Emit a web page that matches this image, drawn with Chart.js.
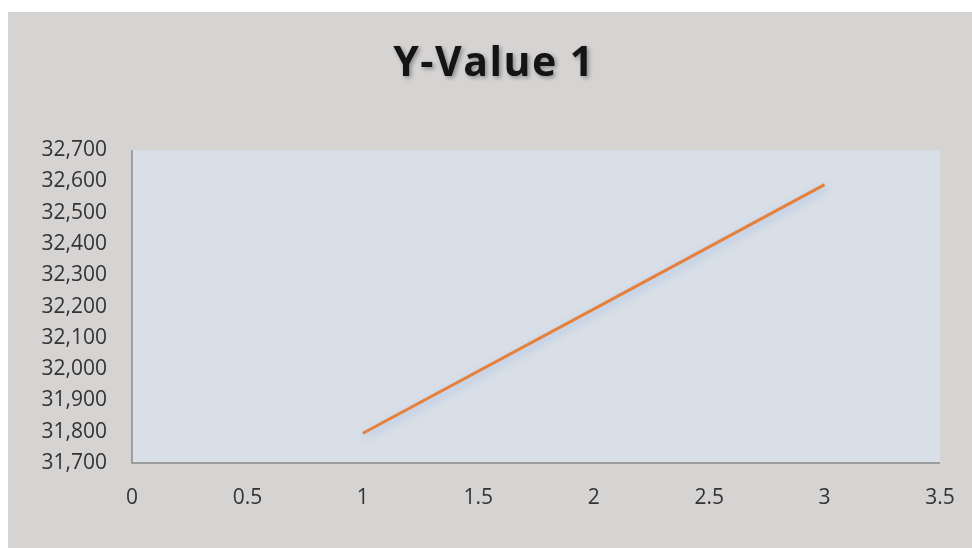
<!DOCTYPE html>
<html>
<head>
<meta charset="utf-8">
<script src="https://cdn.jsdelivr.net/npm/chart.js@4"></script>
<style>
    body { margin: 0; background: #ffffff; overflow: hidden; }
    #wrap {
        position: absolute;
        left: 8px; top: 12px;
        width: 964px; height: 536px;
        background: #d6d3d3;
    }
    #lineChart { display: block; width: 964px; height: 536px; }
</style>
</head>
<body>
<div id="wrap"><canvas id="lineChart" width="964" height="536"></canvas></div>
<script>
// chart data
const xValues = [1, 2, 3];
const yValues = [31795, 32192, 32590];
const seriesName = 'Y-Value 1';
const xTicks = [0, 0.5, 1, 1.5, 2, 2.5, 3, 3.5];
const yTicks = [31700, 31800, 31900, 32000, 32100, 32200, 32300, 32400, 32500, 32600, 32700];

window.onload = () => {
    const ctx = document.getElementById('lineChart').getContext('2d');

    // Fill the plot area with the pale blue panel
    const plotBackground = {
        id: 'plotBackground',
        beforeDatasetsDraw(chart) {
            const { ctx, chartArea } = chart;
            ctx.save();
            ctx.fillStyle = '#d9dfe7';
            ctx.fillRect(chartArea.left, chartArea.top, chartArea.right - chartArea.left, chartArea.bottom - chartArea.top);
            ctx.strokeStyle = '#8a8a8a';
            ctx.lineWidth = 1.5;
            ctx.beginPath();
            ctx.moveTo(chartArea.left, chartArea.top);
            ctx.lineTo(chartArea.left, chartArea.bottom);
            ctx.lineTo(chartArea.right, chartArea.bottom);
            ctx.stroke();
            ctx.restore();
        }
    };

    // Soft shadow under the line
    const lineShadow = {
        id: 'lineShadow',
        beforeDatasetDraw(chart) {
            const c = chart.ctx;
            c.save();
            c.shadowColor = 'rgba(90, 150, 220, 0.45)';
            c.shadowBlur = 8;
            c.shadowOffsetX = 2;
            c.shadowOffsetY = 3;
        },
        afterDatasetDraw(chart) {
            chart.ctx.restore();
        }
    };

    // Title drawn over the (transparent) built-in title box, with spacing and shadow
    const titleStyle = {
        id: 'titleStyle',
        afterDraw(chart) {
            const c = chart.ctx;
            const box = chart.titleBlock;
            c.save();
            c.font = 'bold 41px "Open Sans"';
            c.letterSpacing = '1.5px';
            c.fillStyle = '#141414';
            c.textAlign = 'center';
            c.textBaseline = 'middle';
            c.shadowColor = 'rgba(0, 0, 0, 0.35)';
            c.shadowBlur = 4;
            c.shadowOffsetX = 2;
            c.shadowOffsetY = 2;
            c.fillText(seriesName, chart.width / 2 + 4, box.top + 52);
            c.restore();
        }
    };

    new Chart(ctx, {
        type: 'line',
        data: {
            datasets: [{
                label: seriesName,
                data: xValues.map((x, i) => ({ x: x, y: yValues[i] })),
                borderColor: '#e5813c',
                borderWidth: 3,
                pointRadius: 0,
                tension: 0,
                fill: false
            }]
        },
        options: {
            responsive: false,
            animation: false,
            layout: { padding: { left: 0, right: 32, top: 0, bottom: 0 } },
            plugins: {
                legend: { display: false },
                tooltip: { enabled: false },
                title: {
                    display: true,
                    text: seriesName,
                    color: 'rgba(0,0,0,0)',
                    font: { family: 'Open Sans', size: 41, weight: 'bold' },
                    padding: { top: 27, bottom: 62 }
                }
            },
            scales: {
                x: {
                    type: 'linear',
                    min: xTicks[0],
                    max: xTicks[xTicks.length - 1],
                    afterBuildTicks: scale => { scale.ticks = xTicks.map(v => ({ value: v })); },
                    grid: { display: false, drawTicks: false },
                    border: { display: false },
                    ticks: {
                        color: '#333333',
                        padding: 22,
                        font: { family: 'Open Sans', size: 21 },
                        callback: v => String(v)
                    },
                    afterFit: scale => {
                        scale.height = 85;
                        scale.paddingLeft = 0;
                        scale.paddingRight = 0;
                    }
                },
                y: {
                    min: yTicks[0],
                    max: yTicks[yTicks.length - 1],
                    afterBuildTicks: scale => { scale.ticks = yTicks.map(v => ({ value: v })); },
                    grid: { display: false, drawTicks: false },
                    border: { display: false },
                    ticks: {
                        color: '#333333',
                        padding: 25,
                        font: { family: 'Open Sans', size: 21 },
                        callback: v => v.toLocaleString('en-US')
                    },
                    afterFit: scale => { scale.width = 124; }
                }
            }
        },
        plugins: [plotBackground, lineShadow, titleStyle]
    });
};
</script>
</body>
</html>
